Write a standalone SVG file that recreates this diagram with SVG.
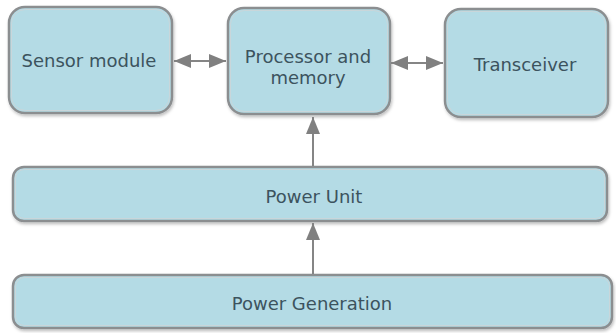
<svg xmlns="http://www.w3.org/2000/svg" width="616" height="333" viewBox="0 0 616 333">
<style>
.box{fill:#b4dbe5;stroke:#8b8e90;stroke-width:2.5;filter:url(#sh)}
.inner{fill:none;stroke:#c9d6da;stroke-width:1}
.lbl{font-family:"DejaVu Sans",Verdana,sans-serif;font-size:18px;fill:#3c535e;text-anchor:middle}
.con{stroke:#858585;stroke-width:2;fill:none}
</style>
<defs>
<filter id="sh" x="-10%" y="-10%" width="120%" height="130%">
<feDropShadow dx="1" dy="2" stdDeviation="1.8" flood-color="#000" flood-opacity="0.25"/>
</filter>
<marker id="ah" markerUnits="userSpaceOnUse" markerWidth="19" markerHeight="14" refX="17" refY="7" orient="auto-start-reverse">
<path d="M0,0 L17,7 L0,14 z" fill="#808080"/>
</marker>
</defs>
<rect width="616" height="333" fill="#ffffff"/>
<g id="sensor">
<rect class="box" x="9" y="7" width="163" height="106" rx="16"/>
<rect class="inner" x="11.5" y="9.5" width="158" height="101" rx="14"/>
<text class="lbl" x="89" y="67">Sensor module</text>
</g>
<g id="processor">
<rect class="box" x="228" y="8" width="162" height="106" rx="16"/>
<rect class="inner" x="230.5" y="10.5" width="157" height="101" rx="14"/>
<text class="lbl" x="308" y="63">Processor and</text>
<text class="lbl" x="308" y="84">memory</text>
</g>
<g id="transceiver">
<rect class="box" x="445" y="9" width="163" height="108" rx="16"/>
<rect class="inner" x="447.5" y="11.5" width="158" height="103" rx="14"/>
<text class="lbl" x="525" y="71">Transceiver</text>
</g>
<g id="powerunit">
<rect class="box" x="13" y="167" width="594" height="54" rx="11"/>
<rect class="inner" x="15.5" y="169.5" width="589" height="49" rx="9"/>
<text class="lbl" x="314" y="203">Power Unit</text>
</g>
<g id="powergen">
<rect class="box" x="13" y="275" width="599" height="53" rx="11"/>
<rect class="inner" x="15.5" y="277.5" width="594" height="48" rx="9"/>
<text class="lbl" x="312" y="310">Power Generation</text>
</g>
<g id="connectors">
<line class="con" x1="174" y1="61" x2="226" y2="61" marker-start="url(#ah)" marker-end="url(#ah)"/>
<line class="con" x1="391" y1="63" x2="443" y2="63" marker-start="url(#ah)" marker-end="url(#ah)"/>
<line class="con" x1="313" y1="166" x2="313" y2="117" marker-end="url(#ah)"/>
<line class="con" x1="313" y1="274" x2="313" y2="223" marker-end="url(#ah)"/>
</g>
</svg>
